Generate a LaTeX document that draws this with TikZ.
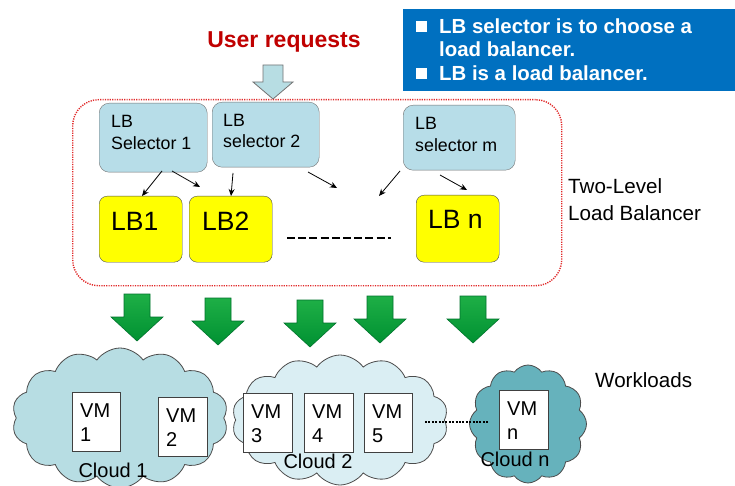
\documentclass[tikz,border=0pt]{standalone}
\usepackage{fontspec}
\setmainfont{Liberation Sans}
\usetikzlibrary{shapes.symbols,arrows.meta}
\definecolor{selblue}{RGB}{183,221,232}
\definecolor{cloudA}{RGB}{183,221,227}
\definecolor{cloudB}{RGB}{218,238,243}
\definecolor{cloudC}{RGB}{102,178,188}
\definecolor{infoblue}{RGB}{0,112,192}
\definecolor{darkred}{RGB}{192,0,0}
\definecolor{dotred}{RGB}{225,40,40}
\definecolor{lbyellow}{RGB}{255,255,0}
\definecolor{grntop}{RGB}{30,175,70}
\definecolor{grnbot}{RGB}{0,145,50}
\definecolor{grndark}{RGB}{0,115,45}
\tikzset{
  selbox/.style={draw=black!55, fill=selblue, rounded corners=10pt, anchor=north west, inner sep=0pt},
  lbbox/.style={draw=black!70, fill=lbyellow, rounded corners=8pt, anchor=north west, inner sep=0pt},
  vmbox/.style={draw=black!75, line width=0.8pt, fill=white, anchor=north west, inner sep=0pt},
  cloudshape/.style={cloud, draw=black!70, line width=0.8pt, cloud puff arc=110, inner sep=0pt},
  txt/.style={anchor=base west, inner sep=0pt},
  seltext/.style={txt, font=\fontsize{17.8}{20}\selectfont},
  lbtext/.style={txt, font=\fontsize{26.5}{30}\selectfont},
  vmtext/.style={txt, font=\fontsize{20}{24}\selectfont},
  sidetext/.style={txt, font=\fontsize{20.6}{24}\selectfont},
  infotext/.style={txt, text=white, font=\fontsize{20.4}{24}\selectfont\bfseries},
  smallarrow/.style={-{Stealth[length=7pt,width=6pt]}, line width=0.8pt, black},
  garrow/.pic={\draw[top color=grntop, bottom color=grnbot, draw=grndark, line width=0.6pt]
      (-13,0) -- (13,0) -- (13,23) -- (26,23) -- (0,47) -- (-26,23) -- (-13,23) -- cycle;},
}
\begin{document}
\begin{tikzpicture}[x=1pt, y=-1pt]
\useasboundingbox (0,0) rectangle (735,486);
\fill[white] (0,0) rectangle (735,486);

% info box
\node[fill=infoblue, anchor=north west, minimum width=332pt, minimum height=82pt, inner sep=0pt] (info) at (403,9) {};
\node[fill=white, minimum size=11pt, inner sep=0pt] (b1) at (421,27) {};
\node[fill=white, minimum size=11pt, inner sep=0pt] (b2) at (421,74) {};
\node[infotext] (i1) at (439,34) {LB selector is to choose a};
\node[infotext] (i2) at (439,57) {load balancer.};
\node[infotext] (i3) at (439,80.5) {LB is a load balancer.};

% user requests
\node[anchor=base, inner sep=0pt, text=darkred, font=\fontsize{23}{27}\selectfont\bfseries] (user) at (284,48) {User requests};
\draw[fill=cloudA, draw=black!55, line width=0.8pt]
  (263,65) -- (283,65) -- (283,82) -- (293,82) -- (273,99) -- (253,82) -- (263,82) -- cycle;

% dotted frame
\node[draw=dotred, line width=1.4pt, dash pattern=on 1.2pt off 1.2pt, rounded corners=26pt,
      anchor=north west, minimum width=489pt, minimum height=186pt, inner sep=0pt] (frame) at (72,99) {};

% selectors
\node[selbox, minimum width=108pt, minimum height=69pt] (s1) at (99,103) {};
\node[selbox, minimum width=107pt, minimum height=65pt] (s2) at (212,102) {};
\node[selbox, minimum width=112pt, minimum height=65pt] (sm) at (403,105) {};
\node[seltext] at (111,128) {LB};
\node[seltext] at (111,150) {Selector 1};
\node[seltext] at (223,127) {LB};
\node[seltext] at (223,148) {selector 2};
\node[seltext] at (415,130) {LB};
\node[seltext] at (415,152) {selector m};

% LBs
\node[lbbox, minimum width=83pt, minimum height=66pt] (lb1) at (99,196) {};
\node[lbbox, minimum width=83pt, minimum height=66pt] (lb2) at (189,196) {};
\node[lbbox, minimum width=83pt, minimum height=67pt] (lbn) at (416,195) {};
\node[lbtext] at (111,230) {LB1};
\node[lbtext] at (202,230) {LB2};
\node[lbtext] at (428,228) {LB n};
\coordinate (d1) at (287,238);
\coordinate (d2) at (391,238);
\draw[line width=2pt, dash pattern=on 8pt off 3.2pt] (d1) -- (d2);

% small arrows
\coordinate (a1s) at (162,171); \coordinate (a1e) at (142,196);
\coordinate (a2s) at (172,171); \coordinate (a2e) at (200,187);
\coordinate (a3s) at (233,173); \coordinate (a3e) at (231,196);
\coordinate (a4s) at (308,172); \coordinate (a4e) at (337,188);
\coordinate (a5s) at (400,171); \coordinate (a5e) at (379,196);
\coordinate (a6s) at (440,175); \coordinate (a6e) at (467,190);
\draw[smallarrow] (a1s) -- (a1e);
\draw[smallarrow] (a2s) -- (a2e);
\draw[smallarrow] (a3s) -- (a3e);
\draw[smallarrow] (a4s) -- (a4e);
\draw[smallarrow] (a5s) -- (a5e);
\draw[smallarrow] (a6s) -- (a6e);

\node[sidetext] at (568,194) {Two-Level};
\node[sidetext] at (568,220) {Load Balancer};

% green arrows
\pic at (137,294) {garrow};
\pic at (218,298) {garrow};
\pic at (310,300) {garrow};
\pic at (380,296) {garrow};
\pic at (473,296) {garrow};

% clouds
\node[cloudshape, fill=cloudA, cloud puffs=14, minimum width=216pt, minimum height=140pt] (c1) at (120,418) {};
\node[cloudshape, fill=cloudB, cloud puffs=14, minimum width=216pt, minimum height=130pt] (c2) at (340,420) {};
\node[cloudshape, fill=cloudC, cloud puffs=12, minimum width=117pt, minimum height=118pt] (cn) at (528,424) {};

% VMs
\node[vmbox, minimum width=48pt, minimum height=59pt] (vm1) at (72,392) {};
\node[vmbox, minimum width=49pt, minimum height=59pt] (vm2) at (158,397) {};
\node[vmbox, minimum width=49pt, minimum height=59pt] (vm3) at (243,393) {};
\node[vmbox, minimum width=49pt, minimum height=59pt] (vm4) at (304,393) {};
\node[vmbox, minimum width=48pt, minimum height=59pt] (vm5) at (364,393) {};
\node[vmbox, minimum width=49pt, minimum height=59pt] (vmn) at (499,390) {};
\node[vmtext] at (80,417) {VM};  \node[vmtext] at (80,441) {1};
\node[vmtext] at (166,422) {VM}; \node[vmtext] at (166,446) {2};
\node[vmtext] at (251,418) {VM}; \node[vmtext] at (251,442) {3};
\node[vmtext] at (312,418) {VM}; \node[vmtext] at (312,442) {4};
\node[vmtext] at (372,418) {VM}; \node[vmtext] at (372,442) {5};
\node[vmtext] at (507,415) {VM}; \node[vmtext] at (507,439) {n};

\coordinate (e1) at (425,422);
\coordinate (e2) at (488,422);
\draw[line width=2pt, dash pattern=on 2pt off 1.4pt] (e1) -- (e2);

\node[vmtext, anchor=base] at (113,477) {Cloud 1};
\node[vmtext, anchor=base] at (318,468) {Cloud 2};
\node[vmtext, anchor=base] at (515,466) {Cloud n};
\node[sidetext] at (595,387) {Workloads};
\end{tikzpicture}
\end{document}
